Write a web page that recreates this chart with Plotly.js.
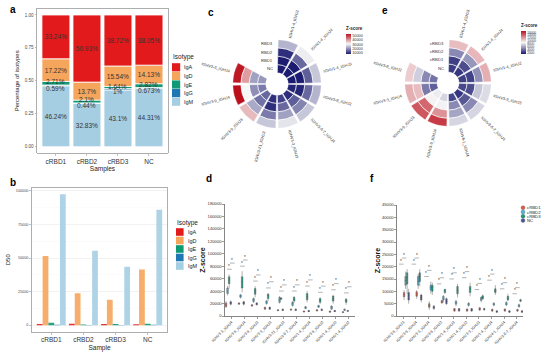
<!DOCTYPE html>
<html><head><meta charset="utf-8">
<script src="https://cdn.plot.ly/plotly-3.0.1.min.js"></script>
<style>html,body{margin:0;padding:0;background:#fff;}#chart{width:553px;height:354px;}</style>
</head><body><div id="chart"></div>
<script>
// ---------------- data ----------------
const samples = ['cRBD1', 'cRBD2', 'cRBD3', 'NC'];
const isotypes = ['IgA', 'IgD', 'IgE', 'IgG', 'IgM'];

// panel a : percentage of isotypes
const pctIgA = [33.24, 50.93, 38.72, 38.05];
const pctIgD = [17.22, 13.7, 15.54, 14.13];
const pctIgE = [2.71, 2.1, 1.64, 2.82];
const pctIgG = [0.59, 0.44, 1, 0.673];
const pctIgM = [46.24, 32.83, 43.1, 44.31];

// panel b : D50
const d50IgA = [800, 1000, 800, 700];
const d50IgD = [51500, 23800, 19000, 41500];
const d50IgE = [1800, 500, 800, 1000];
const d50IgG = [300, 200, 200, 300];
const d50IgM = [97500, 55500, 43500, 86000];

// panel c : circular heatmap (clockwise from top), rings inner -> outer
const ringLabelsC = ['NC', 'RBD1', 'RBD2', 'RBD3'];
const cGenes = ['IGHV1-4_IGHJ2', 'IGHV1-4_IGHJ4', 'IGHV1-4_IGHJ3', 'IGHV3-9_IGHJ2', 'IGHV3-6-7_IGHJ4',
                'IGHV3-3_IGHJ3', 'IGHV3-21_IGHJ3', 'IGHV3-9_IGHJ3', 'IGHV3-9_IGHJ4', 'IGHV3-3_IGHJ4'];
const cNC    = [7000, 7500, 8000, 9000, 10000, 12000, 10000, 16000, 18000, 21000];
const cRBD1  = [6000, 7000, 8000, 9000, 15000, 16000, 10000, 17000, 20000, 22000];
const cRBD2  = [10000, 16000, 15000, 16000, 19000, 22000, 18000, 23000, 31000, 40000];
const cRBD3  = [24000, 30000, 26000, 24000, 26000, 29000, 26000, 37000, 54000, 53000];
const cTicks = [10000, 20000, 30000, 40000, 50000];

// panel e : circular heatmap
const ringLabelsE = ['NC', 'cRBD1', 'cRBD2', 'cRBD3'];
const eGenes = ['IGHV1-4_IGHJ3', 'IGHV1-4_IGHJ4', 'IGHV1-4_IGHJ2', 'IGHV3-3_IGHJ3', 'IGHV3-6-7_IGHJ4',
                'IGHV4-1_IGHJ4', 'IGHV3-9_IGHJ4', 'IGHV3-9_IGHJ3', 'IGHV3-3_IGHJ4', 'IGHV3-9_IGHJ2'];
const eNC    = [2200, 2000, 2300, 2600, 2000, 2600, 7800, 8600, 3500, 4200];
const eRBD1  = [2300, 2800, 2400, 2800, 3200, 5000, 8800, 9200, 4500, 5000];
const eRBD2  = [5000, 5500, 5200, 7200, 5000, 6000, 12500, 14000, 11000, 7500];
const eRBD3  = [11000, 11200, 11500, 8000, 7800, 7800, 15500, 14500, 11500, 10500];
const eTicks = [2000, 4000, 6000, 8000, 10000, 12000, 14000, 16000];

// panel d : box stats [lower, q1, median, q3, upper]
const groups = ['cRBD1', 'cRBD2', 'cRBD3', 'NC'];
const dGenes = ['IGHV3-3_IGHJ4', 'IGHV3-9_IGHJ4', 'IGHV3-9_IGHJ3', 'IGHV3-3_IGHJ3', 'IGHV3-21_IGHJ3',
                'IGHV3-6-7_IGHJ4', 'IGHV1-4_IGHJ4', 'IGHV3-9_IGHJ2', 'IGHV1-4_IGHJ3', 'IGHV1-4_IGHJ2'];
const d_cRBD1 = [[13000,15000,18000,21000,24000],[18000,19000,20000,21000,22000],[15000,16000,17000,18000,19000],
  [10000,11000,12000,14000,15000],[8000,8500,9000,10000,11000],[8500,9500,10000,11000,12000],[6000,6500,7000,8000,8500],
  [7500,8000,9000,10000,11000],[5500,6000,7000,8000,8500],[5000,5500,6000,7000,7500]];
const d_cRBD2 = [[33000,36000,40000,45000,48000],[28000,30000,32000,34000,35000],[21000,23000,26000,28000,30000],
  [18000,20000,22000,24000,26000],[20000,22000,26000,30000,32000],[15000,17000,20000,22000,24000],[11000,12000,13000,15000,16000],
  [13000,14000,15000,17000,18000],[10000,11000,14000,16000,17000],[8500,9000,10000,11000,12000]];
const d_cRBD3 = [[44000,52000,58000,63000,67000],[38000,45000,55000,63000,72000],[30000,35000,40000,44000,48000],
  [24000,28000,33000,35000,37000],[26000,27000,28000,29000,30000],[21000,24000,27000,30000,32000],[22000,26000,31000,36000,40000],
  [19000,22000,25000,28000,30000],[20000,24000,28000,32000,34000],[18000,22000,25000,27000,29000]];
const d_NC = [[17000,19000,21000,23000,25000],[17000,19000,21000,23000,24000],[17000,18000,20000,21000,22000],
  [10000,11000,12000,14000,15000],[8000,9000,10000,11000,12000],[8000,9000,10000,11000,12000],[6500,7000,8000,9000,9500],
  [8000,9000,10000,11000,12000],[6500,7000,8000,9000,9500],[7000,7500,8000,9000,9500]];

// panel f : box stats
const fGenes = ['IGHV3-9_IGHJ3', 'IGHV3-9_IGHJ4', 'IGHV3-3_IGHJ4', 'IGHV3-9_IGHJ2', 'IGHV1-4_IGHJ3',
                'IGHV1-4_IGHJ2', 'IGHV3-3_IGHJ3', 'IGHV1-4_IGHJ4', 'IGHV4-1_IGHJ4', 'IGHV3-6-7_IGHJ4'];
const f_cRBD1 = [[6500,7800,8700,9500,10500],[7000,8000,8800,9800,10500],[2500,3500,4300,5000,6000],
  [5000,5300,5800,6300,6500],[1700,2000,2500,3000,3200],[1700,2000,2400,2800,3100],[2000,2400,2800,3300,3600],
  [1600,2000,2300,2700,3000],[1700,2000,2400,2800,3100],[1600,2000,2300,2600,2900]];
const f_cRBD2 = [[11000,12500,14400,16000,18000],[11000,12500,14000,16000,17000],[9000,10500,11500,12500,14000],
  [5500,6500,7200,8000,8500],[4000,4800,5300,6000,6500],[3800,4300,4800,5200,5600],[5500,6300,7000,7500,8000],
  [4000,4400,4800,5200,5600],[4000,4500,5000,5500,6000],[3300,3800,4200,4600,5000]];
const f_cRBD3 = [[9000,13000,15500,17500,19000],[12000,14000,16000,17500,19000],[8500,10000,11500,12500,13500],
  [9000,9500,10200,10800,11000],[7500,9000,10500,12000,13000],[8000,9500,11000,12000,13500],[6500,7000,7500,8200,8700],
  [8500,9500,10200,11000,12500],[6000,6500,7300,8000,9000],[5600,6000,6300,6600,7000]];
const f_NC = [[5000,6500,8300,9500,11000],[5500,6500,7500,8500,9000],[2500,3000,3500,4000,4500],
  [4500,5000,6000,7000,7500],[1700,2000,2500,3000,3200],[1700,2000,2500,3000,3200],[2200,2500,2800,3000,3300],
  [1200,1500,1800,2100,2400],[1200,1500,1800,2100,2400],[1200,1500,1800,2100,2400]];

// ---------------- styling / helpers ----------------
const W = 553, H = 354;
const px = x => x / W;
const py = y => 1 - y / H;
const FONT = 'Liberation Sans, Arial, sans-serif';
const isoColors = {IgA: '#e31a1c', IgD: '#f6a55c', IgE: '#109a74', IgG: '#1f78b4', IgM: '#a6cee3'};
const grpColors = {cRBD1: '#e0584c', cRBD2: '#46b8dd', cRBD3: '#139c80', NC: '#4a5899'};
const heatScale = [[0, '#1b1b70'], [0.5, '#f7f7f7'], [1, '#bb101c']];
const HOLE = 0.25;

const traces = [];
const shapes = [];
const annotations = [];

// ---- panel a (stacked proportions) ----
const pctBy = {IgA: pctIgA, IgD: pctIgD, IgE: pctIgE, IgG: pctIgG, IgM: pctIgM};
// the two thin segments get their labels as annotations, nudged apart like the original
const thinShift = {IgE: 1.5, IgG: -2.6};
let cum = samples.map(() => 0);
['IgM', 'IgG', 'IgE', 'IgD', 'IgA'].forEach(iso => {
  const vals = pctBy[iso];
  const thin = iso in thinShift;
  traces.push({
    type: 'bar', name: iso, x: samples, y: vals.map(v => v / 100), base: cum.slice(),
    width: 0.9, offset: -0.45, xaxis: 'x', yaxis: 'y',
    marker: {color: isoColors[iso], line: {color: '#ffffff', width: 0.8}},
    text: thin ? null : vals.map(v => v + '%'), textposition: 'inside', insidetextanchor: 'middle',
    textangle: 0, constraintext: 'none', textfont: {size: 6.5, color: '#333333', family: FONT},
    showlegend: false, hoverinfo: 'skip'
  });
  if (thin) {
    samples.forEach((s, i) => annotations.push({xref: 'x', yref: 'y', x: s, y: cum[i] + vals[i] / 200,
      yshift: thinShift[iso], showarrow: false, text: vals[i] + '%', font: {size: 6.5, color: '#333', family: FONT}}));
  }
  cum = cum.map((c, i) => c + vals[i] / 100);
});

// ---- panel b (grouped D50) ----
const d50By = {IgA: d50IgA, IgD: d50IgD, IgE: d50IgE, IgG: d50IgG, IgM: d50IgM};
isotypes.forEach(iso => {
  traces.push({type: 'bar', name: iso, x: samples, y: d50By[iso], xaxis: 'x2', yaxis: 'y2',
    marker: {color: isoColors[iso], opacity: 0.9}, showlegend: false, hoverinfo: 'skip'});
});

// ---- panels c & e (circular heatmaps) ----
function ringTraces(subplot, genes, rings, cmin, cmax, ticks, cbX, cbY, cbLen, cbFont) {
  rings.forEach((vals, k) => {
    traces.push({
      type: 'barpolar', subplot: subplot, theta: genes, r: genes.map(() => 1), base: genes.map(() => k),
      marker: {color: vals, colorscale: heatScale, cmin: cmin, cmax: cmax, showscale: k === 0,
        line: {color: '#ffffff', width: 0.6},
        colorbar: {x: px(cbX), xanchor: 'left', y: py(cbY), yanchor: 'top', len: cbLen, lenmode: 'pixels',
          thickness: 5, thicknessmode: 'pixels', outlinewidth: 0, xpad: 0, ypad: 0, ticks: '',
          tickvals: ticks, tickformat: 'd', tickfont: {size: cbFont, color: '#333', family: FONT},
          title: {text: '<b>Z-score</b>', side: 'top', font: {size: 4.5, color: '#222', family: FONT}}}},
      showlegend: false, hoverinfo: 'skip'
    });
  });
}
ringTraces('polar', cGenes, [cNC, cRBD1, cRBD2, cRBD3], 8000, 54000, cTicks, 346, 24, 30, 3.8);
ringTraces('polar2', eGenes, [eNC, eRBD1, eRBD2, eRBD3], 1000, 17000, eTicks, 521, 21, 33, 3.2);

function sectorLabels(genes, cx, cy, R, fs) {
  genes.forEach((g, i) => {
    const th = 15 + 30 * i;
    const half = g.length * fs * 0.28;
    const r = R + 4 + half;
    const rad = th * Math.PI / 180;
    annotations.push({xref: 'paper', yref: 'paper', x: px(cx + r * Math.sin(rad)), y: py(cy - r * Math.cos(rad)),
      xanchor: 'center', yanchor: 'middle', showarrow: false, text: g,
      textangle: th < 180 ? th - 90 : th - 270, font: {size: fs, color: '#333', family: FONT}});
  });
}
sectorLabels(cGenes, 277, 84, 44.5, 4);
sectorLabels(eGenes, 448, 83, 43.5, 4);

// ring names, placed left of the top edge of each ring
function ringLabels(names, cx, cy, R) {
  const inner = R * HOLE, w = (R - inner) / names.length;
  names.forEach((n, k) => {
    annotations.push({xref: 'paper', yref: 'paper', x: px(cx - 2.5), y: py(cy - inner - w * (k + 0.5)),
      xanchor: 'right', yanchor: 'middle', showarrow: false, text: n, font: {size: 4.2, color: '#333', family: FONT}});
  });
}
ringLabels(ringLabelsC, 277, 84, 44.5);
ringLabels(ringLabelsE, 448, 83, 43.5);

// ---- panels d & f (boxes) ----
function boxTraces(genes, series, xa, ya) {
  groups.forEach((g, k) => {
    const s = series[k];
    traces.push({type: 'box', name: g, x: genes, xaxis: xa, yaxis: ya,
      lowerfence: s.map(v => v[0]), q1: s.map(v => v[1]), median: s.map(v => v[2]),
      q3: s.map(v => v[3]), upperfence: s.map(v => v[4]),
      fillcolor: grpColors[g], line: {color: '#505050', width: 0.45}, whiskerwidth: 0,
      showlegend: false, hoverinfo: 'skip'});
  });
}
boxTraces(dGenes, [d_cRBD1, d_cRBD2, d_cRBD3, d_NC], 'x3', 'y3');
boxTraces(fGenes, [f_cRBD1, f_cRBD2, f_cRBD3, f_NC], 'x4', 'y4');

function sigMarks(genes, series, xref, yref, span) {
  genes.forEach((g, i) => {
    const top = Math.max(...series.map(s => s[i][4]));
    [0, 1].forEach(k => {
      const y = top + span * (0.045 + 0.055 * k);
      shapes.push({type: 'line', xref: xref, yref: yref, x0: i - 0.34 + 0.22 * k, x1: i + 0.02 + 0.22 * k,
        y0: y, y1: y, line: {color: '#666', width: 0.5}});
      annotations.push({xref: xref, yref: yref, x: i - 0.16 + 0.22 * k, y: y, yanchor: 'bottom', yshift: -1.5,
        showarrow: false, text: '*', font: {size: 4.5, color: '#333', family: FONT}});
    });
  });
}
sigMarks(dGenes, [d_cRBD1, d_cRBD2, d_cRBD3, d_NC], 'x3', 'y3', 180000);
sigMarks(fGenes, [f_cRBD1, f_cRBD2, f_cRBD3, f_NC], 'x4', 'y4', 45000);

// ---- legends (drawn compactly) ----
function isoLegend(x0, yTitle, yFirst, step, sw) {
  annotations.push({xref: 'paper', yref: 'paper', x: px(x0 - 1), y: py(yTitle), xanchor: 'left', yanchor: 'middle',
    showarrow: false, text: 'Isotype', font: {size: 6.5, color: '#222', family: FONT}});
  isotypes.forEach((iso, i) => {
    const yc = yFirst + i * step;
    shapes.push({type: 'rect', xref: 'paper', yref: 'paper', x0: px(x0), x1: px(x0 + sw),
      y0: py(yc + sw / 2), y1: py(yc - sw / 2), fillcolor: isoColors[iso], line: {width: 0}});
    annotations.push({xref: 'paper', yref: 'paper', x: px(x0 + sw + 2), y: py(yc), xanchor: 'left', yanchor: 'middle',
      showarrow: false, text: iso, font: {size: 5.5, color: '#222', family: FONT}});
  });
}
isoLegend(172, 57, 67.3, 8.6, 8.2);
isoLegend(176, 223, 232, 8.5, 7.6);

groups.forEach((g, i) => {
  const yc = 207.7 + i * 4.3;
  shapes.push({type: 'circle', xref: 'paper', yref: 'paper', x0: px(521), x1: px(525), y0: py(yc + 2), y1: py(yc - 2),
    fillcolor: grpColors[g], line: {color: '#555', width: 0.3}});
  annotations.push({xref: 'paper', yref: 'paper', x: px(525.3), y: py(yc), xanchor: 'left', yanchor: 'middle',
    showarrow: false, text: g, font: {size: 4.3, color: '#222', family: FONT}});
});

// panel letters
[['a', 13, 10], ['b', 13, 182], ['c', 211, 12], ['d', 209, 178], ['e', 385, 11], ['f', 372, 179]].forEach(l => {
  annotations.push({xref: 'paper', yref: 'paper', x: px(l[1]), y: py(l[2]), xanchor: 'center', yanchor: 'middle',
    showarrow: false, text: '<b>' + l[0] + '</b>', font: {size: 10, color: '#000', family: FONT}});
});

// ---------------- layout ----------------
const ggAxis = {showline: true, mirror: true, linecolor: '#9a9a9a', linewidth: 0.8, ticks: 'outside', ticklen: 2,
  tickcolor: '#9a9a9a', tickwidth: 0.6, zeroline: false, showgrid: false};
const prismAxis = {showline: true, linecolor: '#333', linewidth: 0.6, ticks: 'outside', ticklen: 2, tickcolor: '#333',
  tickwidth: 0.5, zeroline: false, showgrid: false};
const polarBase = (cx, cy, R) => ({
  domain: {x: [px(cx - R), px(cx + R)], y: [py(cy + R), py(cy - R)]}, hole: HOLE, bgcolor: 'rgba(0,0,0,0)',
  angularaxis: {type: 'category', period: 12, rotation: 75, direction: 'clockwise', showline: false, showgrid: false,
    showticklabels: false, ticks: ''},
  radialaxis: {range: [0, 4], showline: false, showgrid: false, showticklabels: false, ticks: ''}
});

const layout = {
  width: W, height: H, margin: {l: 0, r: 0, t: 0, b: 0}, paper_bgcolor: '#fff', plot_bgcolor: '#fff',
  font: {family: FONT, color: '#333'}, showlegend: false,
  barmode: 'group', bargap: 0.1, bargroupgap: 0, boxmode: 'group', boxgap: 0.03, boxgroupgap: 0.04,
  xaxis: Object.assign({}, ggAxis, {domain: [px(37.3), px(167.6)], anchor: 'y', type: 'category', range: [-0.6, 3.6],
    tickfont: {size: 6.5, color: '#333'}, title: {text: 'Samples', font: {size: 6.5, color: '#222'}, standoff: 1}}),
  yaxis: Object.assign({}, ggAxis, {domain: [py(153.3), py(8.4)], anchor: 'x', range: [-0.05, 1.05],
    tickvals: [0, 0.25, 0.5, 0.75, 1], ticktext: ['0.00', '0.25', '0.50', '0.75', '1.00'],
    tickfont: {size: 4.5, color: '#4d4d4d'}, title: {text: 'Percentage of isotypes', font: {size: 6, color: '#222'}, standoff: 4}}),
  xaxis2: Object.assign({}, ggAxis, {domain: [px(32), px(167)], anchor: 'y2', type: 'category', range: [-0.6, 3.6],
    tickfont: {size: 6.5, color: '#333'}, title: {text: 'Sample', font: {size: 6.5, color: '#222'}, standoff: 3}}),
  yaxis2: Object.assign({}, ggAxis, {domain: [py(331.7), py(187.7)], anchor: 'x2', range: [-4875, 102375],
    tickvals: [0, 25000, 50000, 75000, 100000], tickformat: 'd', showgrid: true, gridcolor: '#ececec', gridwidth: 0.6,
    minor: {showgrid: true, gridcolor: '#f5f5f5', gridwidth: 0.4, dtick: 12500, tick0: 0},
    tickfont: {size: 3.8, color: '#4d4d4d'}, title: {text: 'D50', font: {size: 6, color: '#222'}, standoff: 4}}),
  xaxis3: Object.assign({}, prismAxis, {domain: [px(225), px(355)], anchor: 'y3', type: 'category',
    tickangle: -45, tickfont: {size: 3.8, color: '#333'}}),
  yaxis3: Object.assign({}, prismAxis, {domain: [py(316), py(204)], anchor: 'x3', range: [0, 180000], dtick: 20000,
    tickformat: 'd', tickfont: {size: 4.2, color: '#333'},
    title: {text: '<b>Z-score</b>', font: {size: 7, color: '#111'}, standoff: 0}}),
  xaxis4: Object.assign({}, prismAxis, {domain: [px(397), px(523)], anchor: 'y4', type: 'category',
    tickangle: -45, tickfont: {size: 3.8, color: '#333'}}),
  yaxis4: Object.assign({}, prismAxis, {domain: [py(316), py(205)], anchor: 'x4', range: [0, 45000], dtick: 5000,
    tickformat: 'd', tickfont: {size: 4.2, color: '#333'},
    title: {text: '<b>Z-score</b>', font: {size: 7, color: '#111'}, standoff: 0}}),
  polar: polarBase(277, 84, 44.5),
  polar2: polarBase(448, 83, 43.5),
  shapes: shapes,
  annotations: annotations
};

Plotly.newPlot('chart', traces, layout, {displayModeBar: false, staticPlot: true});
</script>
</body></html>
